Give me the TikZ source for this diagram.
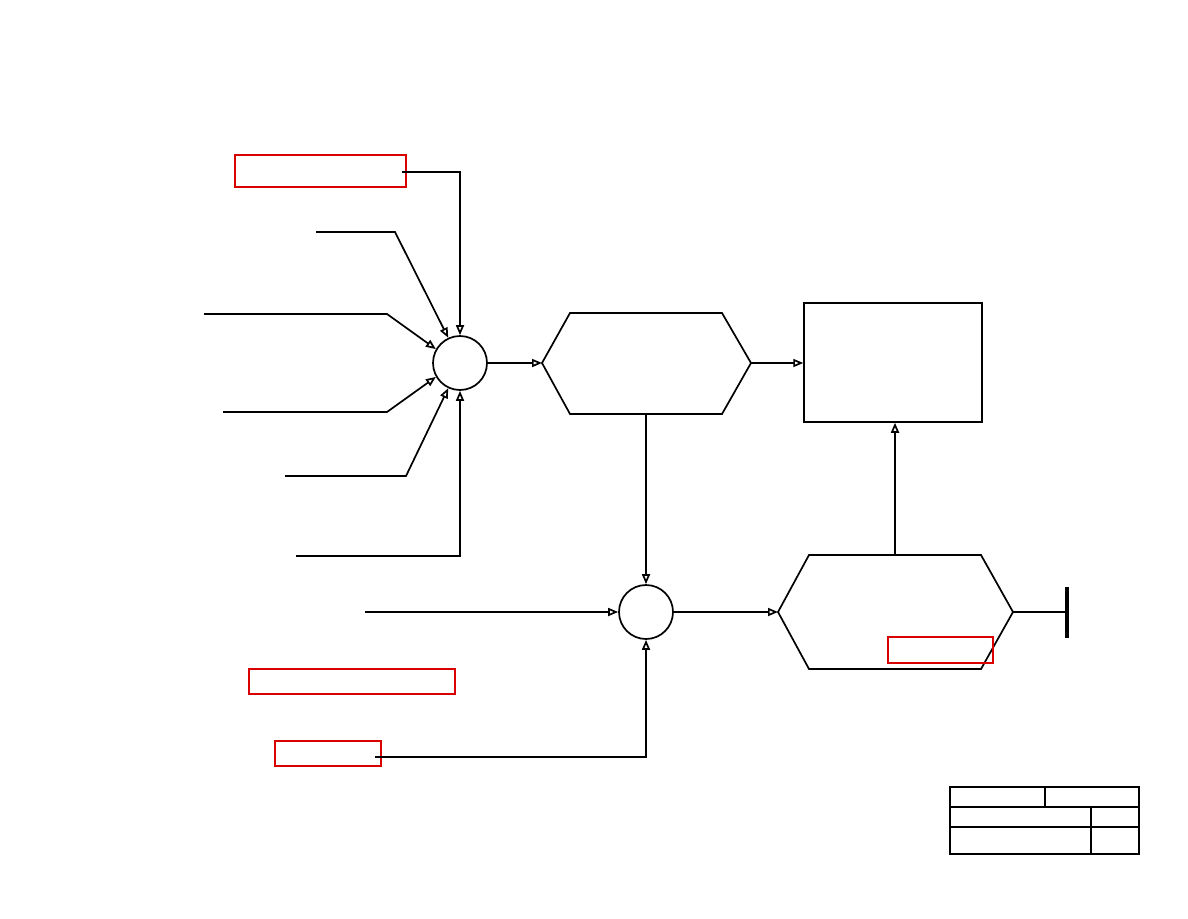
\documentclass[tikz,border=0pt]{standalone}
\usetikzlibrary{arrows.meta}
\begin{document}
\begin{tikzpicture}[x=1pt,y=-1pt,
  ln/.style={line width=1.7pt},
  arr/.style={ln,-{Triangle[open,length=10pt,width=8pt]}},
  circ/.style={draw,circle,line width=1.7pt,minimum size=54pt,inner sep=0pt},
  box/.style={draw,line width=1.5pt,inner sep=0pt},
  redbox/.style={draw=red!85!black,line width=1.4pt},
  tb/.style={line width=2.2pt}]
\useasboundingbox (0,0) rectangle (1188,918);
% nodes
\node[circ] (c1) at (460,363) {};
\node[circ] (c2) at (646,612) {};
\node[box,minimum width=178pt,minimum height=119pt] (r) at (893,362.5) {};
% hexagon 1
\coordinate (h1w) at (542,363);
\coordinate (h1e) at (751,363);
\coordinate (h1s) at (646,414);
\draw[ln] (h1w) -- (570,313) -- (722,313) -- (h1e) -- (722,414) -- (570,414) -- cycle;
% hexagon 2
\coordinate (h2w) at (778,612);
\coordinate (h2e) at (1013,612);
\coordinate (h2n) at (895,555);
\draw[ln] (h2w) -- (809,555) -- (981,555) -- (h2e) -- (981,669) -- (809,669) -- cycle;
% red boxes
\draw[redbox] (235,155) rectangle (406,187);
\draw[redbox] (249,669) rectangle (455,694);
\draw[redbox] (275,741) rectangle (381,766);
\draw[redbox] (888,637) rectangle (993,663);
% input coordinates
\coordinate (i1) at (402,172);
\coordinate (i2) at (316,232);
\coordinate (i3) at (204,314);
\coordinate (i4) at (223,412);
\coordinate (i5) at (285,476);
\coordinate (i6) at (296,556);
\coordinate (i7) at (365,612);
\coordinate (i8) at (375,757);
% connectors to c1
\draw[arr] (i1) -- (460,172) -- (c1.north);
\draw[arr] (i2) -- (395,232) -- (c1.115);
\draw[arr] (i3) -- (387,314) -- (c1.150);
\draw[arr] (i4) -- (387,412) -- (c1.210);
\draw[arr] (i5) -- (406,476) -- (c1.245);
\draw[arr] (i6) -- (460,556) -- (c1.south);
% main flow
\draw[arr] (c1.east) -- (h1w);
\draw[arr] (h1e) -- (r.west |- h1e);
\draw[arr] (h1s) -- (c2.north);
\draw[arr] (i7) -- (c2.west);
\draw[arr] (i8) -- (646,757) -- (c2.south);
\draw[arr] (c2.east) -- (h2w);
\draw[arr] (h2n) -- (h2n |- r.south);
\coordinate (gnd) at (1067,612);
\draw[ln] (h2e) -- (gnd);
\draw[line width=3.5pt] (gnd) ++(0,-25) -- ++(0,51);
% title block
\draw[tb] (950,787) rectangle (1139,854);
\draw[line width=1.5pt] (950,807) -- (1139,807);
\draw[line width=1.5pt] (950,827) -- (1139,827);
\draw[line width=1.5pt] (1045,787) -- (1045,807);
\draw[line width=1.5pt] (1091,807) -- (1091,854);
\end{tikzpicture}
\end{document}
